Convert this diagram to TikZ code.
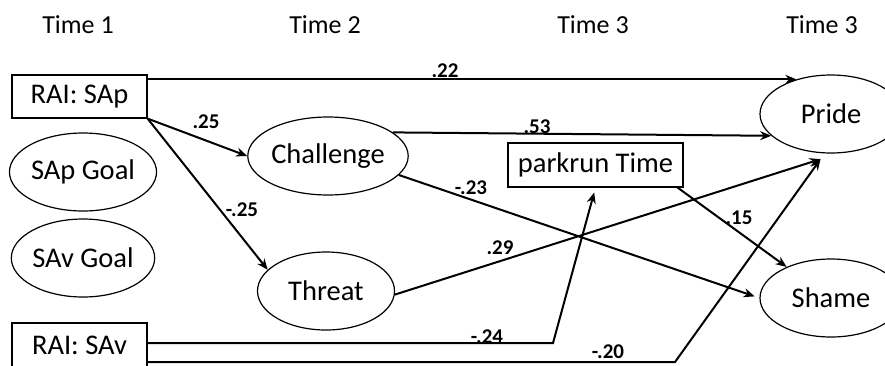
\documentclass[tikz,border=0pt]{standalone}
\usepackage{fontspec}
\setmainfont{Carlito}
\usetikzlibrary{arrows.meta,calc,shapes.geometric}
\begin{document}
\begin{tikzpicture}[x=1pt,y=-1pt,
  every node/.style={inner sep=0pt},
  boxnode/.style={draw,line width=1.2pt,font=\fontsize{28.5}{30}\selectfont},
  ovalnode/.style={draw,ellipse,line width=1.2pt,minimum width=137pt,minimum height=78pt,font=\fontsize{28.5}{30}\selectfont},
  headnode/.style={font=\fontsize{26}{28}\selectfont,anchor=base},
  coef/.style={font=\bfseries\fontsize{21}{23}\selectfont},
  arr/.style={line width=2pt,-{Stealth[length=11pt,width=9pt]}}]
\useasboundingbox (0,0) rectangle (885,365);
\clip (0,0) rectangle (885,365);
% headers
\node[headnode] (h1) at (78,33) {Time 1};
\node[headnode] (h2) at (325,33) {Time 2};
\node[headnode] (h3) at (593,33) {Time 3};
\node[headnode] (h4) at (822,33) {Time 3};
% nodes
\node[boxnode,minimum width=135pt,minimum height=43pt] (sap) at (79.5,96.5) {RAI: SAp};
\node[ovalnode] (sapg) at (83,172) {SAp Goal};
\node[ovalnode] (savg) at (83,258) {SAv Goal};
\node[boxnode,minimum width=135pt,minimum height=44pt] (sav) at (79.5,345) {RAI: SAv};
\node[ovalnode] (chal) at (328,156) {Challenge};
\node[ovalnode] (thr) at (326,291) {Threat};
\node[boxnode,minimum width=175pt,minimum height=44pt] (park) at (595.5,165) {parkrun Time};
\node[ovalnode,minimum width=142pt] (pride) at (831,114) {Pride};
\node[ovalnode,minimum width=142pt] (shame) at (831,298) {Shame};
% helper coordinates
\coordinate (pin) at ($(pride.255)+(0,6)$);
\coordinate (c24) at (553,343);
\coordinate (c20) at (675,362);
% connectors
\draw[arr] (sap.east |- pride.135) -- (pride.135);
\draw[arr] (sap.south east) -- (chal.west);
\draw[arr] (sap.south east) -- (thr.160);
\draw[arr] (chal.20) -- (pride.200);
\draw[arr,shorten >=5pt] (chal.-15) -- (shame.180);
\draw[arr] (thr.-3) -- (pin);
\draw[arr,shorten >=5pt] (sav.east |- c24) -- (c24) -- (park.south);
\draw[arr] (sav.east |- c20) -- (c20) -- (pin);
\draw[arr] ($(park.south east)+(-6,0)$) -- (shame.145);
% coefficients
\node[coef] (l22) at (445,71) {.22};
\node[coef] (l25) at (206,122) {.25};
\node[coef] (lm25) at (242,210) {-.25};
\node[coef] (l53) at (537,127) {.53};
\node[coef] (lm23) at (471,188) {-.23};
\node[coef] (l29) at (500,248) {.29};
\node[coef] (lm24) at (487,337) {-.24};
\node[coef] (lm20) at (608,352) {-.20};
\node[coef] (l15) at (739,218) {.15};
\end{tikzpicture}
\end{document}
